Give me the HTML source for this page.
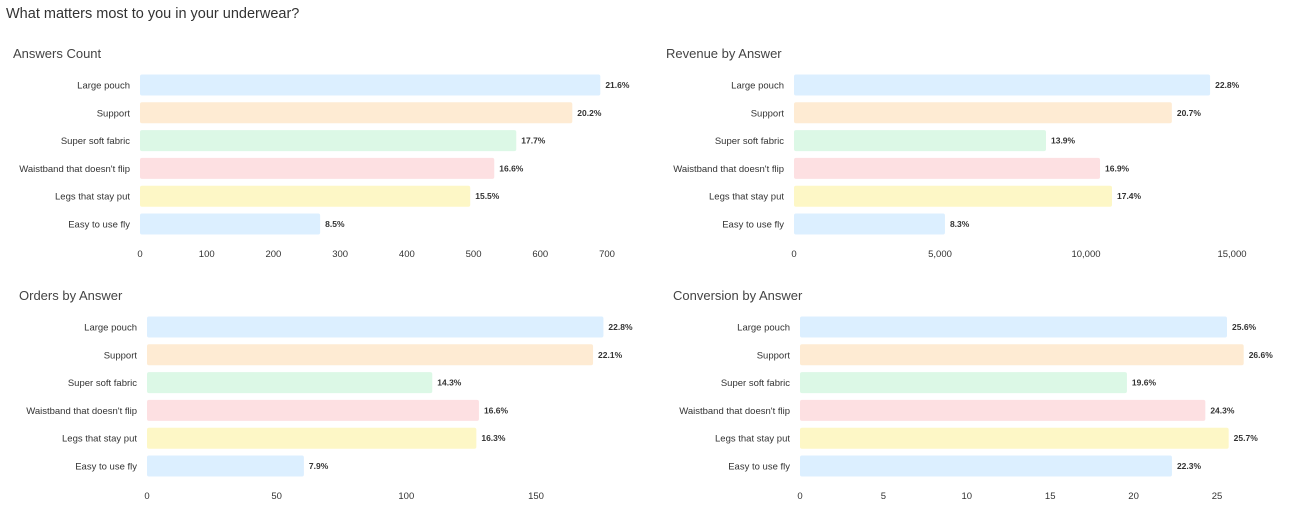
<!DOCTYPE html>
<html><head><meta charset="utf-8"><style>
body{margin:0;width:1292px;height:522px;background:#fff;overflow:hidden;font-family:"Liberation Sans",sans-serif}
svg text{font-family:"Liberation Sans",sans-serif}
</style></head><body>
<svg id="s" width="1292" height="522">
<text x="6" y="18" font-size="14.5" fill="#333">What matters most to you in your underwear?</text>
</svg>
<script>
const categories=["Large pouch","Support","Super soft fabric","Waistband that doesn't flip","Legs that stay put","Easy to use fly"];
const colors=["#dcefff","#feebd3","#dcf8e6","#fde0e2","#fdf7c6","#dcefff"];
const countValues=[690,648,564,531,495,270];
const countLabels=["21.6%","20.2%","17.7%","16.6%","15.5%","8.5%"];
const countTicks=[0,100,200,300,400,500,600,700];
const revenueValues=[14250,12940,8630,10480,10890,5170];
const revenueLabels=["22.8%","20.7%","13.9%","16.9%","17.4%","8.3%"];
const revenueTicks=[0,5000,10000,15000];
const ordersValues=[176,172,110,128,127,60.5];
const ordersLabels=["22.8%","22.1%","14.3%","16.6%","16.3%","7.9%"];
const ordersTicks=[0,50,100,150];
const convValues=[25.6,26.6,19.6,24.3,25.7,22.3];
const convLabels=["25.6%","26.6%","19.6%","24.3%","25.7%","22.3%"];
const convTicks=[0,5,10,15,20,25];
const NS="http://www.w3.org/2000/svg",svg=document.getElementById('s');
function el(t,a,p){const e=document.createElementNS(NS,t);for(const k in a)e.setAttribute(k,a[k]);(p||svg).appendChild(e);return e;}
function chart(name,title,tx,ty,x0,x1,vmax,y0,values,labels,ticks){
  const g=el('g',{});
  
  
  const t=el('text',{x:tx,y:ty,'font-size':13,fill:'#444'},g);t.textContent=title;
  
  
  const xs=v=>x0+(x1-x0)*v/vmax;
  categories.forEach((c,i)=>{
    const yc=y0+i*27.8;
    const l=el('text',{x:x0-10,y:yc+3.5,'font-size':9.5,fill:'#333','text-anchor':'end'},g);l.textContent=c;
    
    
    const b=el('rect',{x:x0,y:yc-10.5,width:Math.max(0,xs(values[i])-x0),height:21,rx:2,fill:colors[i]},g);
    
    
    const v=el('text',{x:xs(values[i])+5,y:yc+3,'font-size':8.5,'font-weight':'bold',fill:'#333'},g);v.textContent=labels[i];
    
    
  });
  ticks.forEach(tk=>{
    const e=el('text',{x:xs(tk),y:y0+5*27.8+33,'font-size':9.5,fill:'#333','text-anchor':'middle'},g);
    e.textContent=tk.toLocaleString('en-US');
    
    
  });
}
chart('answers-count-chart','Answers Count',13,58,140,607,700,85,countValues,countLabels,countTicks);
chart('revenue-chart','Revenue by Answer',666,58,794,1232,15000,85,revenueValues,revenueLabels,revenueTicks);
chart('orders-chart','Orders by Answer',19,300,147,536,150,327,ordersValues,ordersLabels,ordersTicks);
chart('conversion-chart','Conversion by Answer',673,300,800,1217,25,327,convValues,convLabels,convTicks);
</script>
</body></html>
